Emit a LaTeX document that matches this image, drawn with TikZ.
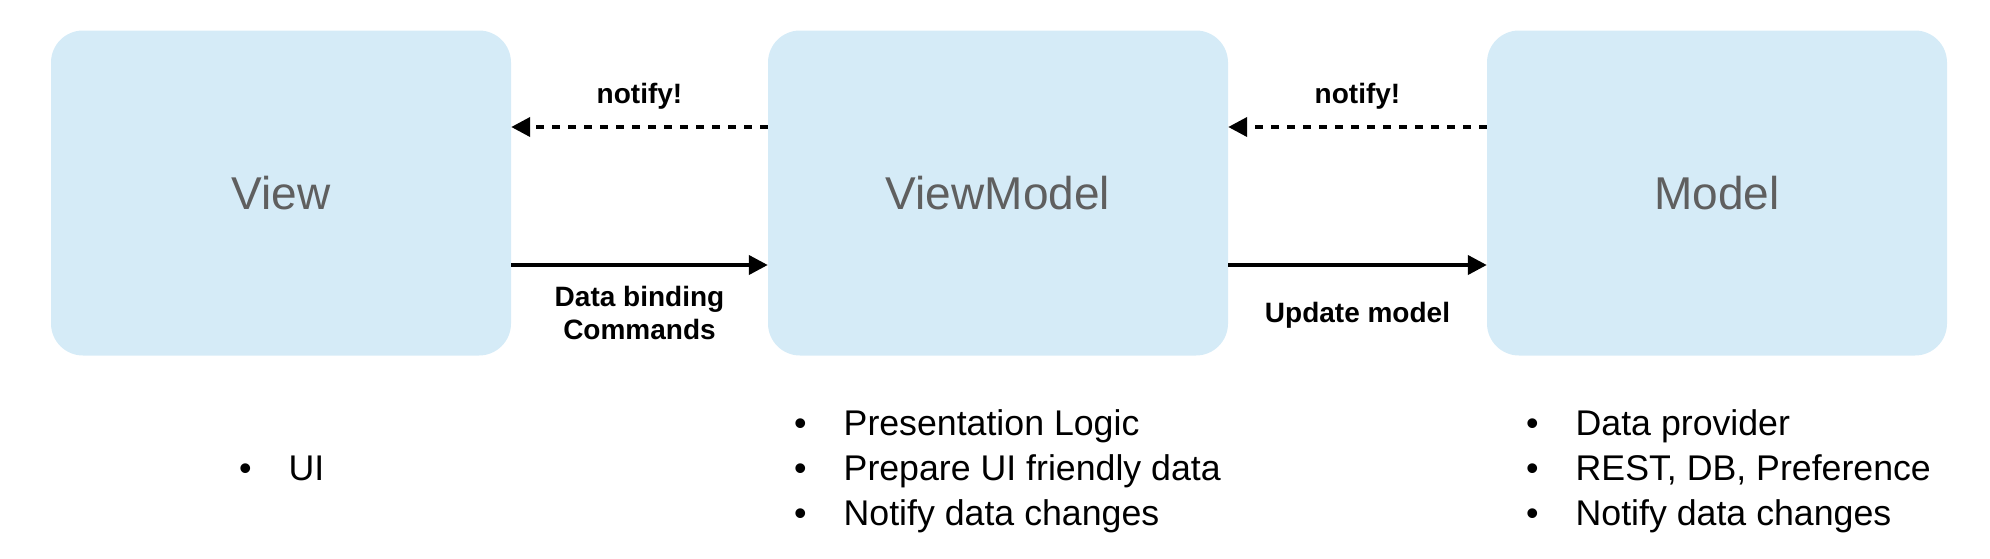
\documentclass[tikz,border=0pt]{standalone}
\usepackage{fontspec}
\setmainfont{Liberation Sans}
\usetikzlibrary{arrows.meta}
\definecolor{boxfill}{RGB}{213,235,247}
\definecolor{labelgray}{RGB}{95,95,95}
\begin{document}
\begin{tikzpicture}[x=1pt,y=-1pt,
  layer/.style={rectangle, rounded corners=32pt, fill=boxfill, minimum width=460pt, minimum height=325pt, inner sep=0pt, text=labelgray, font=\fontsize{46}{55}\selectfont},
  conn/.style={line width=4pt, -{Triangle[length=19pt,width=19pt]}},
  notifyconn/.style={conn, dash pattern=on 8pt off 8pt},
  edgelabel/.style={font=\bfseries\fontsize{28}{33}\selectfont, align=center, inner sep=0pt},
  list/.style={font=\fontsize{35.7}{45}\selectfont, inner sep=0pt, anchor=base west}]
\useasboundingbox (0,0) rectangle (1990,558);

\node[layer] (view) at (281,193) {View};
\node[layer] (vm) at (998,193) {ViewModel};
\node[layer] (model) at (1717,193) {Model};

\coordinate (ytop) at (0,127);
\coordinate (ybot) at (0,265);

\draw[notifyconn] (vm.west |- ytop) -- node[edgelabel, midway, above=16pt] (n1) {notify!} (view.east |- ytop);
\draw[notifyconn] (model.west |- ytop) -- node[edgelabel, midway, above=16pt] (n2) {notify!} (vm.east |- ytop);
\draw[conn] (view.east |- ybot) -- node[edgelabel, midway, below=19pt] (db) {Data binding\\Commands} (vm.west |- ybot);
\draw[conn] (vm.east |- ybot) -- node[edgelabel, midway, below=35pt] (um) {Update model} (model.west |- ybot);

\node[list] (viewlist) at (239,480) {\begin{tabular}[t]{@{}l@{\hspace{37pt}}l@{}}•&UI\end{tabular}};
\node[list] (vmlist) at (794,435) {\begin{tabular}[t]{@{}l@{\hspace{37pt}}l@{}}•&Presentation Logic\\•&Prepare UI friendly data\\•&Notify data changes\end{tabular}};
\node[list] (modellist) at (1526,435) {\begin{tabular}[t]{@{}l@{\hspace{37pt}}l@{}}•&Data provider\\•&REST, DB, Preference\\•&Notify data changes\end{tabular}};
\end{tikzpicture}
\end{document}
